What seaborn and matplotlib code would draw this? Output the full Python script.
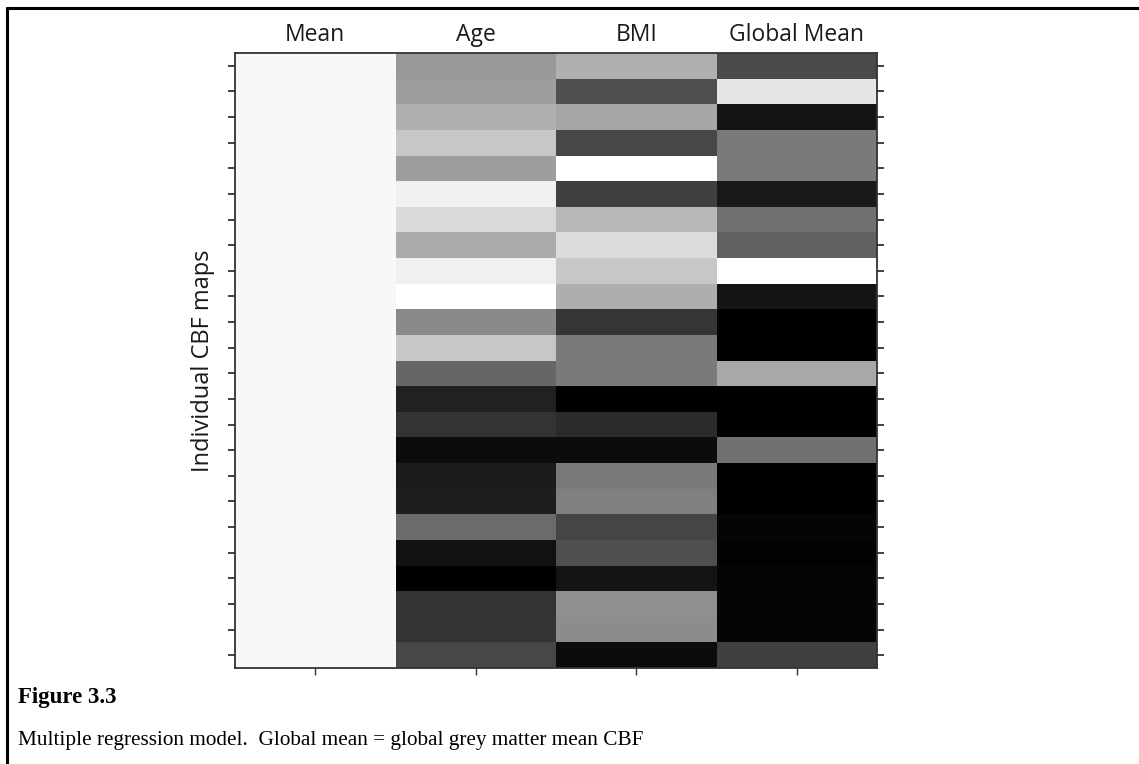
import numpy as np
import pandas as pd
import matplotlib
matplotlib.use("Agg")
import matplotlib.pyplot as plt
from matplotlib.lines import Line2D
import seaborn as sns

# ---- data (grey level, 0 = black, 1 = white) ----
columns = ["Mean", "Age", "BMI", "Global Mean"]
mean_vals = [0.97] * 24
age_vals = [0.60, 0.62, 0.69, 0.78, 0.62, 0.94, 0.85, 0.67, 0.94, 1.00,
            0.54, 0.78, 0.40, 0.13, 0.20, 0.05, 0.11, 0.12, 0.42, 0.07,
            0.00, 0.20, 0.20, 0.28]
bmi_vals = [0.69, 0.31, 0.65, 0.28, 1.00, 0.25, 0.72, 0.86, 0.78, 0.68,
            0.21, 0.48, 0.48, 0.00, 0.17, 0.05, 0.48, 0.50, 0.27, 0.31,
            0.08, 0.56, 0.55, 0.05]
global_vals = [0.29, 0.90, 0.08, 0.48, 0.48, 0.10, 0.44, 0.38, 1.00, 0.08,
               0.00, 0.00, 0.66, 0.00, 0.00, 0.44, 0.00, 0.00, 0.02, 0.01,
               0.02, 0.02, 0.02, 0.25]
ylabel = "Individual CBF maps"
caption_title = "Figure 3.3"
caption_text = "Multiple regression model.  Global mean = global grey matter mean CBF"

df = pd.DataFrame({columns[0]: mean_vals, columns[1]: age_vals,
                   columns[2]: bmi_vals, columns[3]: global_vals})

sns.set_theme(style="white")
plt.rcParams["font.family"] = ["Open Sans", "DejaVu Sans"]

W, H = 1139, 764
fig = plt.figure(figsize=(W / 100, H / 100), dpi=100)
fig.patch.set_facecolor("white")
ax = fig.add_axes([235 / W, 1 - 668 / H, (877 - 235) / W, (668 - 53) / H])

sns.heatmap(df, cmap="gray", vmin=0, vmax=1, cbar=False, ax=ax,
            xticklabels=False, yticklabels=False)

nrows = len(age_vals)
ax.set_yticks(np.arange(nrows) + 0.5)
ax.set_yticklabels([])
ax.set_xticks(np.arange(len(columns)) + 0.5)
ax.set_xticklabels([])

for s in ax.spines.values():
    s.set_visible(True)
    s.set_color("#333333")
    s.set_linewidth(1.3)

ax.tick_params(axis="y", which="both", left=True, right=True, direction="out",
               length=5, width=1.3, color="#333333")
ax.tick_params(axis="x", which="both", bottom=True, top=False, direction="out",
               length=5, width=1.0, color="#333333")

top = ax.secondary_xaxis("top")
top.set_xticks(np.arange(len(columns)) + 0.5)
top.set_xticklabels(columns, fontsize=16.5, color="#1a1a1a")
top.tick_params(direction="in", length=3, width=1.0, color="#333333", pad=4)
top.spines["top"].set_visible(False)

ax.set_ylabel(ylabel, fontsize=17, color="#1a1a1a", labelpad=6)
ax.set_xlabel("")

# figure frame (top and left rules)
fig.add_artist(Line2D([7 / W, 1.0], [1 - 8 / H, 1 - 8 / H], color="black",
                      linewidth=2.2, transform=fig.transFigure))
fig.add_artist(Line2D([7 / W, 7 / W], [1 - 8 / H, 0.0], color="black",
                      linewidth=2.2, transform=fig.transFigure))

fig.text(18 / W, 1 - 697 / H, caption_title, family="Liberation Serif",
         fontweight="bold", fontsize=16.5, va="center", ha="left", color="black")
fig.text(18 / W, 1 - 741 / H, caption_text, family="Liberation Serif",
         fontsize=15.3, va="center", ha="left", color="black")

fig.savefig("out.png", dpi=100, facecolor="white")
